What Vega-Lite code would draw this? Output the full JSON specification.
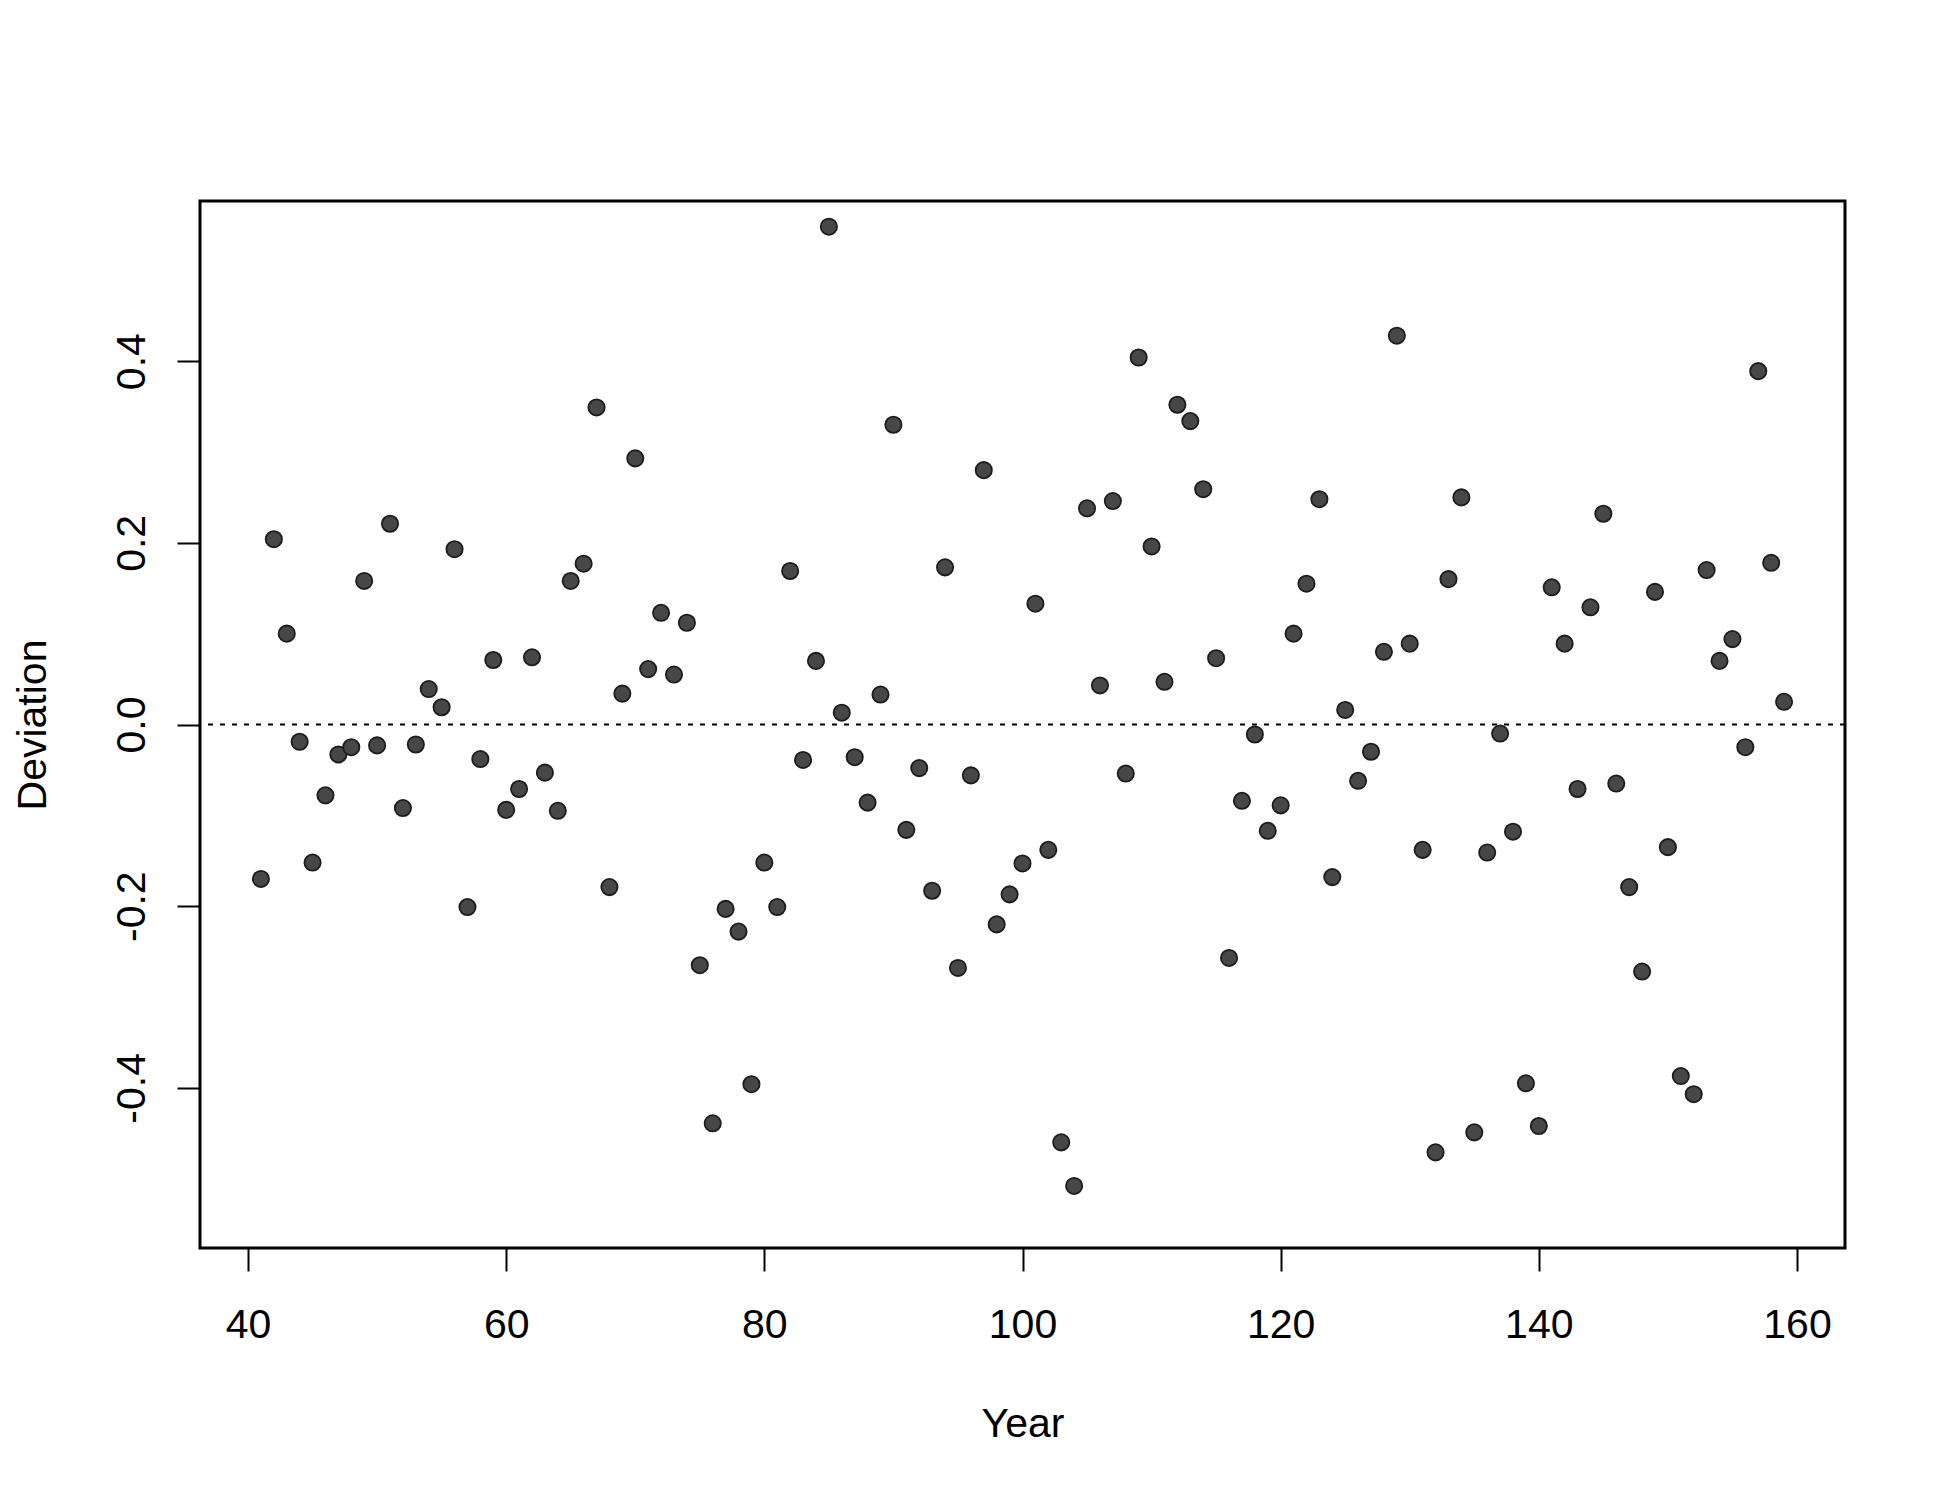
{
  "$schema": "https://vega.github.io/schema/vega-lite/v6.json",
  "autosize": "none",
  "padding": {"left": 200, "top": 201, "right": 105, "bottom": 252},
  "width": 1645,
  "height": 1047,
  "background": "white",
  "config": {
    "view": {"stroke": "black", "strokeWidth": 3},
    "font": "Liberation Sans",
    "axis": {"grid": false, "domain": false, "tickColor": "black", "tickWidth": 2, "tickSize": 23,
      "labelFont": "Liberation Sans", "labelFontSize": 41, "labelColor": "black",
      "titleFont": "Liberation Sans", "titleFontSize": 41, "titleFontWeight": "normal", "titleColor": "black"}
  },
  "datasets": {
    "pts": [
      {"Year":41,"Deviation":-0.170},{"Year":42,"Deviation":0.204},{"Year":43,"Deviation":0.100},{"Year":44,"Deviation":-0.019},
      {"Year":45,"Deviation":-0.152},{"Year":46,"Deviation":-0.078},{"Year":47,"Deviation":-0.033},{"Year":48,"Deviation":-0.025},
      {"Year":49,"Deviation":0.158},{"Year":50,"Deviation":-0.023},{"Year":51,"Deviation":0.221},{"Year":52,"Deviation":-0.092},
      {"Year":53,"Deviation":-0.022},{"Year":54,"Deviation":0.039},{"Year":55,"Deviation":0.019},{"Year":56,"Deviation":0.193},
      {"Year":57,"Deviation":-0.201},{"Year":58,"Deviation":-0.038},{"Year":59,"Deviation":0.071},{"Year":60,"Deviation":-0.094},
      {"Year":61,"Deviation":-0.071},{"Year":62,"Deviation":0.074},{"Year":63,"Deviation":-0.053},{"Year":64,"Deviation":-0.095},
      {"Year":65,"Deviation":0.158},{"Year":66,"Deviation":0.177},{"Year":67,"Deviation":0.349},{"Year":68,"Deviation":-0.179},
      {"Year":69,"Deviation":0.034},{"Year":70,"Deviation":0.293},{"Year":71,"Deviation":0.061},{"Year":72,"Deviation":0.123},
      {"Year":73,"Deviation":0.055},{"Year":74,"Deviation":0.112},{"Year":75,"Deviation":-0.265},{"Year":76,"Deviation":-0.439},
      {"Year":77,"Deviation":-0.203},{"Year":78,"Deviation":-0.228},{"Year":79,"Deviation":-0.396},{"Year":80,"Deviation":-0.152},
      {"Year":81,"Deviation":-0.201},{"Year":82,"Deviation":0.169},{"Year":83,"Deviation":-0.039},{"Year":84,"Deviation":0.070},
      {"Year":85,"Deviation":0.548},{"Year":86,"Deviation":0.013},{"Year":87,"Deviation":-0.036},{"Year":88,"Deviation":-0.086},
      {"Year":89,"Deviation":0.033},{"Year":90,"Deviation":0.330},{"Year":91,"Deviation":-0.116},{"Year":92,"Deviation":-0.048},
      {"Year":93,"Deviation":-0.183},{"Year":94,"Deviation":0.173},{"Year":95,"Deviation":-0.268},{"Year":96,"Deviation":-0.056},
      {"Year":97,"Deviation":0.280},{"Year":98,"Deviation":-0.220},{"Year":99,"Deviation":-0.187},{"Year":100,"Deviation":-0.153},
      {"Year":101,"Deviation":0.133},{"Year":102,"Deviation":-0.138},{"Year":103,"Deviation":-0.460},{"Year":104,"Deviation":-0.508},
      {"Year":105,"Deviation":0.238},{"Year":106,"Deviation":0.043},{"Year":107,"Deviation":0.246},{"Year":108,"Deviation":-0.054},
      {"Year":109,"Deviation":0.404},{"Year":110,"Deviation":0.196},{"Year":111,"Deviation":0.047},{"Year":112,"Deviation":0.352},
      {"Year":113,"Deviation":0.334},{"Year":114,"Deviation":0.259},{"Year":115,"Deviation":0.073},{"Year":116,"Deviation":-0.257},
      {"Year":117,"Deviation":-0.084},{"Year":118,"Deviation":-0.011},{"Year":119,"Deviation":-0.117},{"Year":120,"Deviation":-0.089},
      {"Year":121,"Deviation":0.100},{"Year":122,"Deviation":0.155},{"Year":123,"Deviation":0.248},{"Year":124,"Deviation":-0.168},
      {"Year":125,"Deviation":0.016},{"Year":126,"Deviation":-0.062},{"Year":127,"Deviation":-0.030},{"Year":128,"Deviation":0.080},
      {"Year":129,"Deviation":0.428},{"Year":130,"Deviation":0.089},{"Year":131,"Deviation":-0.138},{"Year":132,"Deviation":-0.471},
      {"Year":133,"Deviation":0.160},{"Year":134,"Deviation":0.250},{"Year":135,"Deviation":-0.449},{"Year":136,"Deviation":-0.141},
      {"Year":137,"Deviation":-0.010},{"Year":138,"Deviation":-0.118},{"Year":139,"Deviation":-0.395},{"Year":140,"Deviation":-0.442},
      {"Year":141,"Deviation":0.151},{"Year":142,"Deviation":0.089},{"Year":143,"Deviation":-0.071},{"Year":144,"Deviation":0.129},
      {"Year":145,"Deviation":0.232},{"Year":146,"Deviation":-0.065},{"Year":147,"Deviation":-0.179},{"Year":148,"Deviation":-0.272},
      {"Year":149,"Deviation":0.146},{"Year":150,"Deviation":-0.135},{"Year":151,"Deviation":-0.387},{"Year":152,"Deviation":-0.407},
      {"Year":153,"Deviation":0.170},{"Year":154,"Deviation":0.070},{"Year":155,"Deviation":0.094},{"Year":156,"Deviation":-0.025},
      {"Year":157,"Deviation":0.389},{"Year":158,"Deviation":0.178},{"Year":159,"Deviation":0.025}
    ],
    "ref": [{"level": 0}]
  },
  "layer": [
    {
      "data": {"name": "ref"},
      "mark": {"type": "rule", "color": "black", "strokeWidth": 2, "strokeDash": [5, 7]},
      "encoding": {
        "y": {"field": "level", "type": "quantitative", "scale": {"domain": [-0.5763, 0.5763], "nice": false, "zero": false}}
      }
    },
    {
      "data": {"name": "pts"},
      "mark": {"type": "point", "shape": "circle", "filled": true, "size": 265, "fill": "#474747", "stroke": "#1c1c1c", "strokeWidth": 1.8, "opacity": 1},
      "encoding": {
        "x": {"field": "Year", "type": "quantitative",
          "scale": {"domain": [36.28, 163.72], "nice": false, "zero": false},
          "axis": {"values": [40, 60, 80, 100, 120, 140, 160], "labelPadding": 34, "labelBaseline": "top",
            "title": "Year", "titleBaseline": "top", "titleY": 156, "titleX": 822.5}},
        "y": {"field": "Deviation", "type": "quantitative",
          "scale": {"domain": [-0.5763, 0.5763], "nice": false, "zero": false},
          "axis": {"values": [-0.4, -0.2, 0, 0.2, 0.4], "labelExpr": "replace(format(datum.value, '.1f'), '−', '-')",
            "labelAngle": -90, "labelAlign": "center", "labelBaseline": "bottom", "labelPadding": 24,
            "title": "Deviation", "titleAngle": -90, "titleAlign": "center", "titleBaseline": "bottom", "titleX": -146, "titleY": 523.5}}
      }
    }
  ]
}
